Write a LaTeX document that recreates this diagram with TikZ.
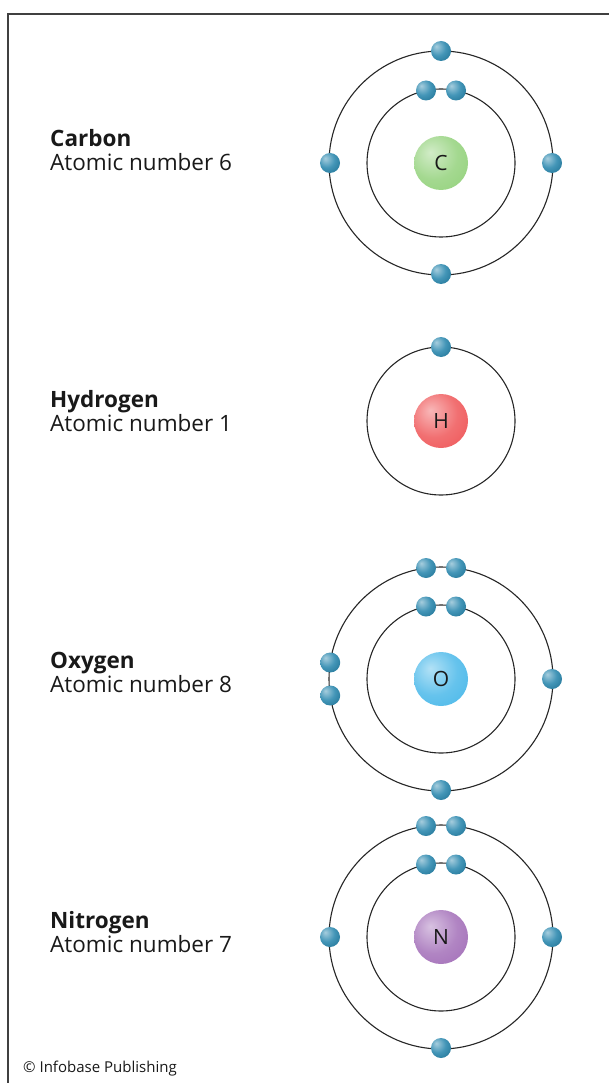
\documentclass[tikz,border=0pt]{standalone}
\usepackage{fontspec}
\setmainfont{Open Sans}

% colours of the shells and balls
\definecolor{electronblue}{HTML}{2283AB}
\definecolor{carbongreen}{HTML}{8DCF74}
\definecolor{hydrogenred}{HTML}{EE4C4E}
\definecolor{oxygenblue}{HTML}{3FB4E8}
\definecolor{nitrogenpurple}{HTML}{9D66B4}
\colorlet{nuccol}{black}

% soft ball for the nucleus, lit from the upper left
\pgfdeclareradialshading[nuccol]{nucleus}{\pgfpoint{-10bp}{10bp}}{%
  color(0bp)=(nuccol!40!white); color(22bp)=(nuccol!80!white);
  color(48bp)=(nuccol); color(70bp)=(nuccol!88!black)}
% small glossy ball for the electrons
\pgfdeclareradialshading[electronblue]{electronball}{\pgfpoint{-12bp}{12bp}}{%
  color(0bp)=(electronblue!40!white); color(20bp)=(electronblue!85!white);
  color(42bp)=(electronblue!85!black); color(70bp)=(electronblue!55!black)}

\begin{document}
\begin{tikzpicture}[x=1pt, y=-1pt,
  shell/.style={draw=black!85, line width=1.1pt},
  electron/.style={circle, minimum size=20pt, inner sep=0pt, shading=electronball},
  nucleus/.style={circle, minimum size=54pt, inner sep=0pt, /utils/exec={\colorlet{nuccol}{#1}},
    shading=nucleus, text=black!90, font=\fontsize{21}{21}\selectfont},
  atomname/.style={anchor=base west, inner sep=0pt, font=\fontsize{22.5}{24}\selectfont\bfseries, text=black!90},
  atomnum/.style={anchor=base west, inner sep=0pt, font=\fontsize{22.5}{24}\selectfont, text=black!90}]
\useasboundingbox (0,0) rectangle (609,1083);

% frame along the top and the left side
\draw[line width=1.4pt, black!75] (609,14) -- (8,14) -- (8,1083);

% Carbon
\node[atomname] (carbonname) at (50,147) {Carbon};
\node[atomnum] (carbonnum) at (50,171) {Atomic number 6};
\begin{scope}[shift={(441,163)}]
\draw[shell] (0,0) circle[radius=74];
\draw[shell] (0,0) circle[radius=112];
\node[nucleus=carbongreen] (C) at (0,0) {C};
\node[electron] (c1) at (-15,-72.5) {};
\node[electron] (c2) at (15,-72.5) {};
\node[electron] (c3) at (0,-112) {};
\node[electron] (c4) at (-111,0) {};
\node[electron] (c5) at (111,0) {};
\node[electron] (c6) at (0,111) {};
\end{scope}

% Hydrogen
\node[atomname] (hydrogenname) at (50,407) {Hydrogen};
\node[atomnum] (hydrogennum) at (50,431) {Atomic number 1};
\begin{scope}[shift={(441,421)}]
\draw[shell] (0,0) circle[radius=74];
\node[nucleus=hydrogenred] (H) at (0,0) {H};
\node[electron] (h1) at (0,-74) {};
\end{scope}

% Oxygen
\node[atomname] (oxygenname) at (50,668) {Oxygen};
\node[atomnum] (oxygennum) at (50,692) {Atomic number 8};
\begin{scope}[shift={(441,679)}]
\draw[shell] (0,0) circle[radius=74];
\draw[shell] (0,0) circle[radius=112];
\node[nucleus=oxygenblue] (O) at (0,0) {O};
\node[electron] (o1) at (-15,-72.5) {};
\node[electron] (o2) at (15,-72.5) {};
\node[electron] (o3) at (-15,-111) {};
\node[electron] (o4) at (15,-111) {};
\node[electron] (o5) at (-110.8,-16.5) {};
\node[electron] (o6) at (-110.8,16.5) {};
\node[electron] (o7) at (111,0) {};
\node[electron] (o8) at (0,111) {};
\end{scope}

% Nitrogen
\node[atomname] (nitrogenname) at (50,928) {Nitrogen};
\node[atomnum] (nitrogennum) at (50,952) {Atomic number 7};
\begin{scope}[shift={(441,937)}]
\draw[shell] (0,0) circle[radius=74];
\draw[shell] (0,0) circle[radius=112];
\node[nucleus=nitrogenpurple] (N) at (0,0) {N};
\node[electron] (n1) at (-15,-72.5) {};
\node[electron] (n2) at (15,-72.5) {};
\node[electron] (n3) at (-15,-111) {};
\node[electron] (n4) at (15,-111) {};
\node[electron] (n5) at (-111,0) {};
\node[electron] (n6) at (111,0) {};
\node[electron] (n7) at (0,111) {};
\end{scope}

\node[anchor=base west, inner sep=0pt, font=\fontsize{15}{15}\selectfont, text=black!90] (credit) at (23,1072) {© Infobase Publishing};
\end{tikzpicture}
\end{document}
